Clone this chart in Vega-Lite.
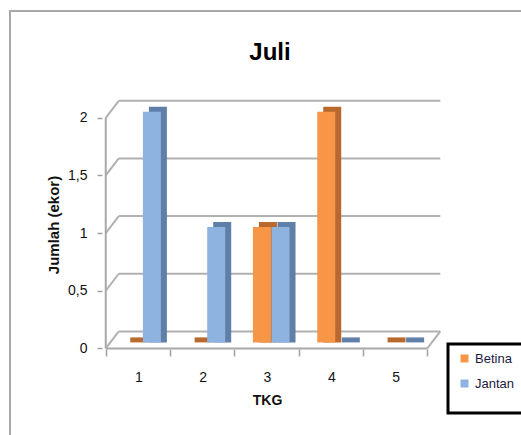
{
  "$schema": "https://vega.github.io/schema/vega-lite/v6.json",
  "autosize": "none",
  "width": 514,
  "height": 427,
  "padding": {"left": 10, "top": 11, "right": -3, "bottom": -3},
  "background": "#ffffff",
  "config": {
    "font": "Liberation Sans, sans-serif",
    "view": {"stroke": "#a8a8a8", "strokeWidth": 2}
  },
  "title": {
    "text": "Juli",
    "fontSize": 24,
    "fontWeight": "bold",
    "color": "#000000",
    "anchor": "middle",
    "frame": "group",
    "baseline": "alphabetic",
    "offset": -73,
    "dx": 3
  },
  "datasets": {
    "tkg": [
      {"TKG": 1, "jenis": "Betina", "jumlah": 0},
      {"TKG": 1, "jenis": "Jantan", "jumlah": 2},
      {"TKG": 2, "jenis": "Betina", "jumlah": 0},
      {"TKG": 2, "jenis": "Jantan", "jumlah": 1},
      {"TKG": 3, "jenis": "Betina", "jumlah": 1},
      {"TKG": 3, "jenis": "Jantan", "jumlah": 1},
      {"TKG": 4, "jenis": "Betina", "jumlah": 2},
      {"TKG": 4, "jenis": "Jantan", "jumlah": 0},
      {"TKG": 5, "jenis": "Betina", "jumlah": 0},
      {"TKG": 5, "jenis": "Jantan", "jumlah": 0}
    ],
    "grid": [{"v": 0}, {"v": 0.5}, {"v": 1}, {"v": 1.5}, {"v": 2}],
    "frame": [{"id": 1}]
  },
  "layer": [
    {
      "data": {"name": "grid"},
      "mark": {"type": "rule", "color": "#b0b0b0", "strokeWidth": 2, "xOffset": 13, "x2Offset": 13, "yOffset": -17, "y2Offset": -17},
      "encoding": {
        "x": {
          "datum": 0.5,
          "type": "quantitative",
          "scale": {"domain": [-0.911, 6.926], "nice": false, "zero": false},
          "axis": {
            "values": [0.5, 1.5, 2.5, 3.5, 4.5, 5.5],
            "labelExpr": "datum.value < 5 ? format(datum.value + 0.5, 'd') : ''",
            "labelOffset": 32.6,
            "offset": -89,
            "domain": false,
            "grid": false,
            "ticks": true,
            "tickSize": 7,
            "tickColor": "#a0a0a0",
            "tickWidth": 1.5,
            "labelPadding": 14,
            "labelFontSize": 14,
            "labelColor": "#111111",
            "labelOverlap": false,
            "labelFlush": false,
            "title": "TKG",
            "titleFontSize": 14,
            "titleFontWeight": "bold",
            "titleColor": "#111111",
            "titlePadding": 9
          }
        },
        "x2": {"datum": 5.5},
        "y": {
          "field": "v",
          "type": "quantitative",
          "scale": {"domain": [-0.777, 2.926], "nice": false, "zero": false},
          "axis": {
            "values": [0, 0.5, 1, 1.5, 2],
            "labelExpr": "replace(format(datum.value, '~g'), '.', ',')",
            "offset": -92,
            "domain": false,
            "grid": false,
            "ticks": true,
            "tickSize": 5,
            "tickColor": "#a0a0a0",
            "tickWidth": 1.5,
            "labelPadding": 10,
            "labelFontSize": 14,
            "labelColor": "#111111",
            "labelOverlap": false,
            "labelFlush": false,
            "title": "Jumlah (ekor)",
            "titleFontSize": 15,
            "titleFontWeight": "bold",
            "titleColor": "#111111",
            "titlePadding": 6
          }
        }
      }
    },
    {
      "data": {"name": "grid"},
      "mark": {"type": "rule", "color": "#b0b0b0", "strokeWidth": 2, "x2Offset": 13, "y2Offset": -17},
      "encoding": {
        "x": {"datum": 0.5, "type": "quantitative", "scale": {"domain": [-0.911, 6.926], "nice": false, "zero": false}},
        "x2": {"datum": 0.5},
        "y": {"field": "v", "type": "quantitative", "scale": {"domain": [-0.777, 2.926], "nice": false, "zero": false}},
        "y2": {"field": "v"}
      }
    },
    {
      "data": {"name": "frame"},
      "mark": {"type": "rule", "color": "#a8a8a8", "strokeWidth": 2},
      "encoding": {
        "x": {"datum": 0.5, "type": "quantitative", "scale": {"domain": [-0.911, 6.926], "nice": false, "zero": false}},
        "y": {"datum": 0, "type": "quantitative", "scale": {"domain": [-0.777, 2.926], "nice": false, "zero": false}},
        "y2": {"datum": 2}
      }
    },
    {
      "data": {"name": "frame"},
      "mark": {"type": "rule", "color": "#a8a8a8", "strokeWidth": 2},
      "encoding": {
        "x": {"datum": 0.5, "type": "quantitative", "scale": {"domain": [-0.911, 6.926], "nice": false, "zero": false}},
        "x2": {"datum": 5.5},
        "y": {"datum": 0, "type": "quantitative", "scale": {"domain": [-0.777, 2.926], "nice": false, "zero": false}}
      }
    },
    {
      "data": {"name": "frame"},
      "mark": {"type": "rule", "color": "#b0b0b0", "strokeWidth": 2, "x2Offset": 13, "y2Offset": -17},
      "encoding": {
        "x": {"datum": 5.5, "type": "quantitative", "scale": {"domain": [-0.911, 6.926], "nice": false, "zero": false}},
        "x2": {"datum": 5.5},
        "y": {"datum": 0, "type": "quantitative", "scale": {"domain": [-0.777, 2.926], "nice": false, "zero": false}},
        "y2": {"datum": 0}
      }
    },
    {
      "data": {"name": "tkg"},
      "transform": [{"filter": "datum.jenis === 'Betina'"}],
      "mark": {"type": "bar", "width": 18, "color": "#b86a2e", "xOffset": 1.4, "yOffset": -11, "y2Offset": -6},
      "encoding": {
        "x": {"field": "TKG", "type": "quantitative", "scale": {"domain": [-0.911, 6.926], "nice": false, "zero": false}},
        "y": {"field": "jumlah", "type": "quantitative", "scale": {"domain": [-0.777, 2.926], "nice": false, "zero": false}},
        "y2": {"datum": 0}
      }
    },
    {
      "data": {"name": "tkg"},
      "transform": [{"filter": "datum.jenis === 'Jantan'"}],
      "mark": {"type": "bar", "width": 18, "color": "#5f7fa8", "xOffset": 20, "yOffset": -11, "y2Offset": -6},
      "encoding": {
        "x": {"field": "TKG", "type": "quantitative", "scale": {"domain": [-0.911, 6.926], "nice": false, "zero": false}},
        "y": {"field": "jumlah", "type": "quantitative", "scale": {"domain": [-0.777, 2.926], "nice": false, "zero": false}},
        "y2": {"datum": 0}
      }
    },
    {
      "data": {"name": "tkg"},
      "transform": [{"filter": "datum.jenis === 'Betina'"}],
      "mark": {"type": "bar", "width": 18, "xOffset": -4.6, "yOffset": -6, "y2Offset": -6},
      "encoding": {
        "x": {"field": "TKG", "type": "quantitative", "scale": {"domain": [-0.911, 6.926], "nice": false, "zero": false}},
        "y": {"field": "jumlah", "type": "quantitative", "scale": {"domain": [-0.777, 2.926], "nice": false, "zero": false}},
        "y2": {"datum": 0},
        "color": {
          "field": "jenis",
          "type": "nominal",
          "scale": {"domain": ["Betina", "Jantan"], "range": ["#f79646", "#8fb3e0"]},
          "legend": {
            "orient": "none",
            "legendX": 438,
            "legendY": 333,
            "title": "\u00a0\u00a0\u00a0\u00a0\u00a0\u00a0\u00a0\u00a0\u00a0\u00a0\u00a0\u00a0\u00a0\u00a0\u00a0\u00a0\u00a0\u00a0\u00a0\u00a0\u00a0\u00a0\u00a0\u00a0\u00a0\u00a0\u00a0\u00a0\u00a0\u00a0\u00a0\u00a0\u00a0\u00a0\u00a0",
            "titleOrient": "bottom",
            "titleFontSize": 8,
            "titlePadding": 6,
            "strokeColor": "#000000",
            "fillColor": "#ffffff",
            "padding": 8,
            "symbolType": "square",
            "symbolSize": 64,
            "symbolStrokeWidth": 0,
            "symbolOffset": 2,
            "labelOffset": 4,
            "labelFontSize": 13,
            "labelColor": "#1a1a40",
            "rowPadding": 11,
            "encode": {"legend": {"update": {"strokeWidth": {"value": 3}}}}
          }
        }
      }
    },
    {
      "data": {"name": "tkg"},
      "transform": [{"filter": "datum.jenis === 'Jantan'"}],
      "mark": {"type": "bar", "width": 18, "xOffset": 14, "yOffset": -6, "y2Offset": -6},
      "encoding": {
        "x": {"field": "TKG", "type": "quantitative", "scale": {"domain": [-0.911, 6.926], "nice": false, "zero": false}},
        "y": {"field": "jumlah", "type": "quantitative", "scale": {"domain": [-0.777, 2.926], "nice": false, "zero": false}},
        "y2": {"datum": 0},
        "color": {
          "field": "jenis",
          "type": "nominal",
          "scale": {"domain": ["Betina", "Jantan"], "range": ["#f79646", "#8fb3e0"]},
          "legend": {
            "orient": "none",
            "legendX": 438,
            "legendY": 333,
            "title": "\u00a0\u00a0\u00a0\u00a0\u00a0\u00a0\u00a0\u00a0\u00a0\u00a0\u00a0\u00a0\u00a0\u00a0\u00a0\u00a0\u00a0\u00a0\u00a0\u00a0\u00a0\u00a0\u00a0\u00a0\u00a0\u00a0\u00a0\u00a0\u00a0\u00a0\u00a0\u00a0\u00a0\u00a0\u00a0",
            "titleOrient": "bottom",
            "titleFontSize": 8,
            "titlePadding": 6,
            "strokeColor": "#000000",
            "fillColor": "#ffffff",
            "padding": 8,
            "symbolType": "square",
            "symbolSize": 64,
            "symbolStrokeWidth": 0,
            "symbolOffset": 2,
            "labelOffset": 4,
            "labelFontSize": 13,
            "labelColor": "#1a1a40",
            "rowPadding": 11,
            "encode": {"legend": {"update": {"strokeWidth": {"value": 3}}}}
          }
        }
      }
    }
  ]
}
